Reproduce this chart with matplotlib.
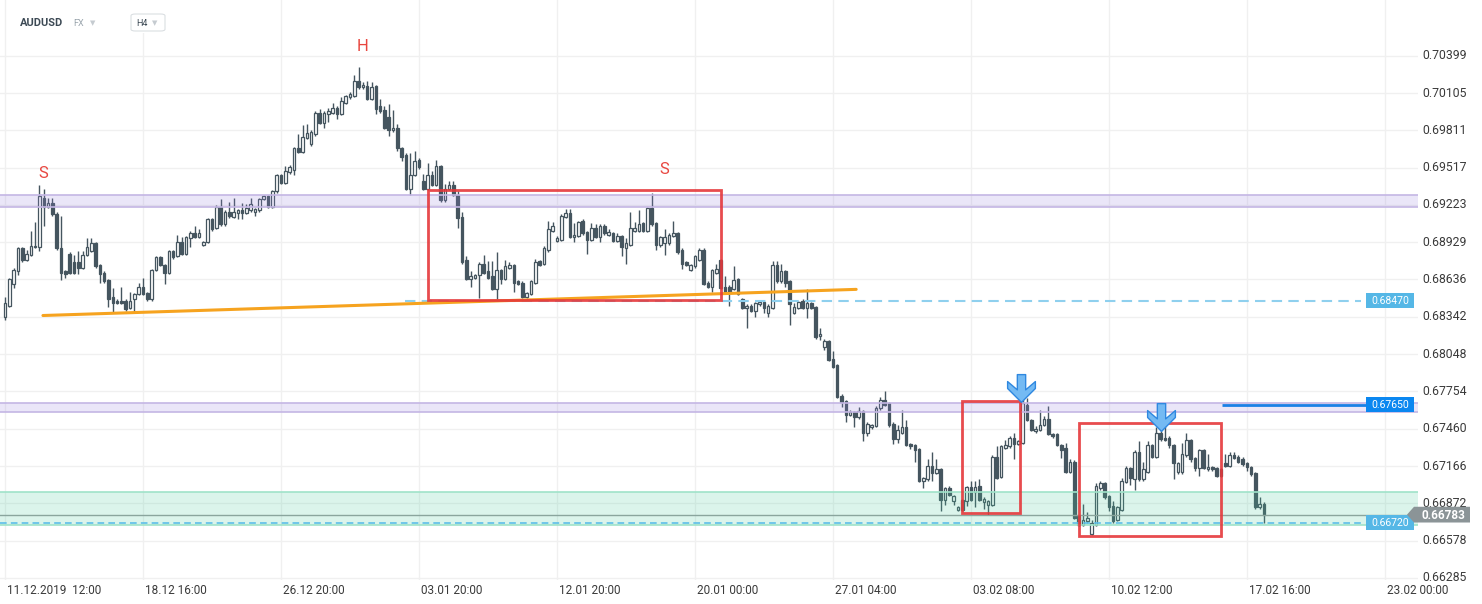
import numpy as np
import matplotlib
matplotlib.use('Agg')
import matplotlib.pyplot as plt
import matplotlib.transforms as mtransforms
from matplotlib.patches import Rectangle, Polygon, FancyBboxPatch
from matplotlib.path import Path

plt.rcParams['font.family'] = ['Roboto', 'DejaVu Sans']

# ---- AUDUSD, H4 candles
opens = [
    0.6834, 0.6843, 0.6860, 0.6870, 0.6888, 0.6879, 0.6883, 0.6890, 0.6889, 0.6928,
    0.6921, 0.6924, 0.6915, 0.6888, 0.6870, 0.6884, 0.6877, 0.6877, 0.6873, 0.6883,
    0.6886, 0.6892, 0.6875, 0.6869, 0.6863, 0.6850, 0.6847, 0.6847, 0.6847, 0.6841,
    0.6848, 0.6852, 0.6858, 0.6853, 0.6848, 0.6871, 0.6881, 0.6875, 0.6869, 0.6886,
    0.6882, 0.6893, 0.6884, 0.6896, 0.6900, 0.6897, 0.6891, 0.6893, 0.6911, 0.6904,
    0.6921, 0.6907, 0.6917, 0.6913, 0.6916, 0.6918, 0.6916, 0.6918, 0.6917, 0.6918,
    0.6927, 0.6929, 0.6921, 0.6933, 0.6946, 0.6940, 0.6948, 0.6950, 0.6967, 0.6964,
    0.6975, 0.6970, 0.6978, 0.6995, 0.6987, 0.6994, 0.6995, 0.6999, 0.6994, 0.7003,
    0.7007, 0.7008, 0.7020, 0.7015, 0.7016, 0.7006, 0.7016, 0.7000, 0.6997, 0.6992,
    0.6981, 0.6983, 0.6967, 0.6962, 0.6935, 0.6946, 0.6958, 0.6941, 0.6935, 0.6946,
    0.6938, 0.6953, 0.6926, 0.6935, 0.6938, 0.6930, 0.6913, 0.6879, 0.6864, 0.6865,
    0.6867, 0.6876, 0.6870, 0.6866, 0.6856, 0.6871, 0.6864, 0.6873, 0.6875, 0.6862,
    0.6861, 0.6850, 0.6852, 0.6861, 0.6878, 0.6876, 0.6887, 0.6902, 0.6894, 0.6895,
    0.6913, 0.6916, 0.6897, 0.6898, 0.6910, 0.6901, 0.6895, 0.6904, 0.6897, 0.6906,
    0.6899, 0.6900, 0.6894, 0.6898, 0.6888, 0.6891, 0.6902, 0.6902, 0.6908, 0.6902,
    0.6920, 0.6908, 0.6891, 0.6892, 0.6892, 0.6898, 0.6900, 0.6887, 0.6877, 0.6871,
    0.6874, 0.6879, 0.6887, 0.6861, 0.6858, 0.6869, 0.6879, 0.6858, 0.6858, 0.6856,
    0.6864, 0.6848, 0.6841, 0.6843, 0.6839, 0.6844, 0.6846, 0.6837, 0.6841, 0.6875,
    0.6862, 0.6870, 0.6862, 0.6837, 0.6841, 0.6847, 0.6841, 0.6845, 0.6842, 0.6819,
    0.6810, 0.6815, 0.6801, 0.6796, 0.6772, 0.6768, 0.6757, 0.6759, 0.6755, 0.6760,
    0.6743, 0.6747, 0.6748, 0.6762, 0.6769, 0.6766, 0.6750, 0.6738, 0.6743, 0.6747,
    0.6734, 0.6733, 0.6730, 0.6705, 0.6706, 0.6717, 0.6711, 0.6714, 0.6690, 0.6699,
    0.6689, 0.6682, 0.6690, 0.6689, 0.6700, 0.6696, 0.6701, 0.6688, 0.6686, 0.6686,
    0.6724, 0.6708, 0.6731, 0.6732, 0.6739, 0.6734, 0.6735, 0.6765, 0.6753, 0.6744,
    0.6745, 0.6749, 0.6754, 0.6742, 0.6742, 0.6733, 0.6731, 0.6712, 0.6720, 0.6677,
    0.6670, 0.6673, 0.6663, 0.6670, 0.6699, 0.6703, 0.6693, 0.6685, 0.6674, 0.6682,
    0.6704, 0.6715, 0.6706, 0.6728, 0.6706, 0.6712, 0.6733, 0.6724, 0.6743, 0.6739,
    0.6739, 0.6733, 0.6712, 0.6712, 0.6725, 0.6737, 0.6723, 0.6715, 0.6729, 0.6714,
    0.6716, 0.6715, 0.6714, 0.6719, 0.6717, 0.6725, 0.6724, 0.6722, 0.6719, 0.6716,
    0.6711, 0.6684, 0.6687,
]
highs = [
    0.6850, 0.6865, 0.6873, 0.6889, 0.6889, 0.6887, 0.6902, 0.6909, 0.6938, 0.6935,
    0.6928, 0.6928, 0.6917, 0.6914, 0.6871, 0.6885, 0.6883, 0.6886, 0.6886, 0.6896,
    0.6896, 0.6893, 0.6876, 0.6870, 0.6864, 0.6857, 0.6848, 0.6858, 0.6848, 0.6854,
    0.6853, 0.6861, 0.6865, 0.6854, 0.6872, 0.6882, 0.6882, 0.6876, 0.6887, 0.6887,
    0.6899, 0.6897, 0.6898, 0.6902, 0.6906, 0.6903, 0.6894, 0.6912, 0.6912, 0.6922,
    0.6927, 0.6918, 0.6925, 0.6928, 0.6919, 0.6924, 0.6923, 0.6928, 0.6920, 0.6928,
    0.6930, 0.6930, 0.6934, 0.6947, 0.6947, 0.6953, 0.6954, 0.6968, 0.6978, 0.6985,
    0.6986, 0.6981, 0.6996, 0.6998, 0.6996, 0.6999, 0.7003, 0.7000, 0.7007, 0.7009,
    0.7011, 0.7025, 0.7031, 0.7019, 0.7020, 0.7019, 0.7017, 0.7006, 0.7000, 0.7002,
    0.6997, 0.6986, 0.6968, 0.6963, 0.6963, 0.6965, 0.6959, 0.6947, 0.6955, 0.6949,
    0.6958, 0.6954, 0.6939, 0.6941, 0.6941, 0.6933, 0.6917, 0.6882, 0.6870, 0.6868,
    0.6877, 0.6883, 0.6878, 0.6878, 0.6885, 0.6872, 0.6879, 0.6877, 0.6876, 0.6863,
    0.6862, 0.6854, 0.6863, 0.6880, 0.6879, 0.6890, 0.6910, 0.6909, 0.6898, 0.6915,
    0.6919, 0.6919, 0.6908, 0.6910, 0.6911, 0.6902, 0.6908, 0.6907, 0.6907, 0.6907,
    0.6903, 0.6901, 0.6900, 0.6899, 0.6896, 0.6917, 0.6909, 0.6918, 0.6909, 0.6921,
    0.6932, 0.6909, 0.6898, 0.6903, 0.6900, 0.6910, 0.6901, 0.6888, 0.6878, 0.6876,
    0.6883, 0.6888, 0.6888, 0.6862, 0.6872, 0.6876, 0.6880, 0.6866, 0.6859, 0.6874,
    0.6865, 0.6849, 0.6844, 0.6844, 0.6846, 0.6847, 0.6847, 0.6844, 0.6878, 0.6878,
    0.6876, 0.6871, 0.6863, 0.6845, 0.6847, 0.6848, 0.6856, 0.6846, 0.6843, 0.6825,
    0.6817, 0.6816, 0.6807, 0.6797, 0.6773, 0.6769, 0.6761, 0.6760, 0.6763, 0.6761,
    0.6751, 0.6750, 0.6764, 0.6771, 0.6776, 0.6767, 0.6751, 0.6749, 0.6761, 0.6753,
    0.6735, 0.6734, 0.6731, 0.6708, 0.6722, 0.6728, 0.6722, 0.6715, 0.6700, 0.6701,
    0.6694, 0.6685, 0.6691, 0.6701, 0.6705, 0.6705, 0.6706, 0.6692, 0.6690, 0.6725,
    0.6732, 0.6733, 0.6737, 0.6740, 0.6743, 0.6737, 0.6772, 0.6770, 0.6754, 0.6748,
    0.6761, 0.6756, 0.6764, 0.6743, 0.6743, 0.6734, 0.6735, 0.6722, 0.6721, 0.6678,
    0.6687, 0.6680, 0.6674, 0.6703, 0.6705, 0.6704, 0.6694, 0.6689, 0.6685, 0.6707,
    0.6717, 0.6716, 0.6729, 0.6736, 0.6720, 0.6736, 0.6734, 0.6747, 0.6745, 0.6750,
    0.6740, 0.6734, 0.6720, 0.6735, 0.6743, 0.6738, 0.6724, 0.6730, 0.6730, 0.6726,
    0.6717, 0.6716, 0.6715, 0.6726, 0.6728, 0.6728, 0.6725, 0.6724, 0.6720, 0.6717,
    0.6712, 0.6692, 0.6688,
]
lows = [
    0.6832, 0.6842, 0.6857, 0.6867, 0.6877, 0.6878, 0.6882, 0.6888, 0.6886, 0.6906,
    0.6920, 0.6914, 0.6887, 0.6863, 0.6865, 0.6868, 0.6868, 0.6868, 0.6872, 0.6882,
    0.6885, 0.6873, 0.6861, 0.6861, 0.6842, 0.6837, 0.6844, 0.6844, 0.6839, 0.6840,
    0.6837, 0.6851, 0.6851, 0.6847, 0.6847, 0.6870, 0.6874, 0.6860, 0.6868, 0.6880,
    0.6881, 0.6883, 0.6883, 0.6889, 0.6896, 0.6896, 0.6890, 0.6892, 0.6902, 0.6903,
    0.6906, 0.6906, 0.6912, 0.6912, 0.6911, 0.6911, 0.6915, 0.6917, 0.6914, 0.6917,
    0.6926, 0.6920, 0.6920, 0.6932, 0.6939, 0.6939, 0.6947, 0.6946, 0.6963, 0.6963,
    0.6974, 0.6969, 0.6977, 0.6986, 0.6983, 0.6988, 0.6994, 0.6990, 0.6993, 0.7002,
    0.7006, 0.7007, 0.7014, 0.7014, 0.7005, 0.7005, 0.6994, 0.6995, 0.6982, 0.6977,
    0.6980, 0.6965, 0.6957, 0.6934, 0.6930, 0.6945, 0.6951, 0.6934, 0.6934, 0.6937,
    0.6937, 0.6925, 0.6925, 0.6934, 0.6929, 0.6904, 0.6876, 0.6863, 0.6858, 0.6864,
    0.6849, 0.6868, 0.6864, 0.6855, 0.6848, 0.6860, 0.6863, 0.6872, 0.6854, 0.6859,
    0.6849, 0.6849, 0.6851, 0.6860, 0.6874, 0.6875, 0.6885, 0.6901, 0.6893, 0.6894,
    0.6912, 0.6896, 0.6893, 0.6897, 0.6899, 0.6884, 0.6894, 0.6896, 0.6893, 0.6899,
    0.6898, 0.6893, 0.6893, 0.6882, 0.6876, 0.6890, 0.6901, 0.6901, 0.6901, 0.6901,
    0.6906, 0.6887, 0.6889, 0.6883, 0.6891, 0.6897, 0.6884, 0.6872, 0.6874, 0.6870,
    0.6873, 0.6878, 0.6859, 0.6857, 0.6854, 0.6868, 0.6856, 0.6853, 0.6843, 0.6855,
    0.6851, 0.6840, 0.6825, 0.6838, 0.6834, 0.6843, 0.6837, 0.6834, 0.6840, 0.6861,
    0.6861, 0.6858, 0.6828, 0.6836, 0.6840, 0.6840, 0.6833, 0.6840, 0.6817, 0.6816,
    0.6808, 0.6799, 0.6794, 0.6770, 0.6763, 0.6751, 0.6756, 0.6747, 0.6754, 0.6736,
    0.6740, 0.6746, 0.6747, 0.6761, 0.6764, 0.6747, 0.6734, 0.6735, 0.6742, 0.6732,
    0.6730, 0.6720, 0.6704, 0.6699, 0.6705, 0.6705, 0.6710, 0.6681, 0.6686, 0.6693,
    0.6686, 0.6681, 0.6681, 0.6685, 0.6689, 0.6684, 0.6689, 0.6683, 0.6678, 0.6685,
    0.6706, 0.6707, 0.6730, 0.6731, 0.6722, 0.6733, 0.6734, 0.6752, 0.6744, 0.6743,
    0.6744, 0.6748, 0.6741, 0.6739, 0.6732, 0.6723, 0.6711, 0.6711, 0.6675, 0.6669,
    0.6669, 0.6672, 0.6662, 0.6669, 0.6698, 0.6691, 0.6681, 0.6672, 0.6673, 0.6681,
    0.6703, 0.6702, 0.6698, 0.6705, 0.6705, 0.6711, 0.6723, 0.6723, 0.6736, 0.6736,
    0.6731, 0.6706, 0.6710, 0.6710, 0.6724, 0.6720, 0.6713, 0.6709, 0.6714, 0.6713,
    0.6713, 0.6708, 0.6708, 0.6716, 0.6716, 0.6722, 0.6719, 0.6717, 0.6713, 0.6709,
    0.6683, 0.6683, 0.6672,
]
closes = [
    0.6845, 0.6864, 0.6871, 0.6888, 0.6879, 0.6884, 0.6890, 0.6889, 0.6929, 0.6921,
    0.6924, 0.6915, 0.6888, 0.6869, 0.6868, 0.6869, 0.6869, 0.6873, 0.6883, 0.6889,
    0.6892, 0.6874, 0.6868, 0.6862, 0.6848, 0.6845, 0.6845, 0.6845, 0.6840, 0.6847,
    0.6852, 0.6858, 0.6852, 0.6848, 0.6871, 0.6881, 0.6875, 0.6869, 0.6886, 0.6881,
    0.6893, 0.6884, 0.6897, 0.6900, 0.6897, 0.6900, 0.6893, 0.6911, 0.6903, 0.6921,
    0.6907, 0.6917, 0.6914, 0.6917, 0.6918, 0.6916, 0.6920, 0.6923, 0.6919, 0.6927,
    0.6929, 0.6921, 0.6933, 0.6946, 0.6940, 0.6949, 0.6952, 0.6967, 0.6964, 0.6976,
    0.6979, 0.6980, 0.6995, 0.6987, 0.6995, 0.6996, 0.6999, 0.6994, 0.7004, 0.7008,
    0.7010, 0.7020, 0.7015, 0.7017, 0.7006, 0.7015, 0.6998, 0.6996, 0.6983, 0.6981,
    0.6983, 0.6967, 0.6960, 0.6935, 0.6946, 0.6957, 0.6952, 0.6935, 0.6946, 0.6938,
    0.6953, 0.6926, 0.6935, 0.6938, 0.6930, 0.6912, 0.6877, 0.6864, 0.6866, 0.6867,
    0.6876, 0.6869, 0.6865, 0.6856, 0.6871, 0.6864, 0.6874, 0.6875, 0.6861, 0.6860,
    0.6850, 0.6853, 0.6862, 0.6877, 0.6875, 0.6888, 0.6903, 0.6906, 0.6896, 0.6914,
    0.6916, 0.6897, 0.6899, 0.6909, 0.6900, 0.6895, 0.6904, 0.6897, 0.6906, 0.6900,
    0.6901, 0.6894, 0.6898, 0.6889, 0.6892, 0.6904, 0.6904, 0.6907, 0.6902, 0.6920,
    0.6907, 0.6891, 0.6897, 0.6897, 0.6899, 0.6900, 0.6885, 0.6876, 0.6875, 0.6875,
    0.6882, 0.6887, 0.6860, 0.6858, 0.6871, 0.6872, 0.6857, 0.6854, 0.6854, 0.6863,
    0.6852, 0.6841, 0.6843, 0.6839, 0.6845, 0.6846, 0.6841, 0.6843, 0.6875, 0.6862,
    0.6870, 0.6861, 0.6844, 0.6842, 0.6846, 0.6841, 0.6845, 0.6841, 0.6818, 0.6821,
    0.6815, 0.6800, 0.6795, 0.6771, 0.6767, 0.6757, 0.6759, 0.6755, 0.6760, 0.6743,
    0.6750, 0.6749, 0.6762, 0.6769, 0.6765, 0.6749, 0.6738, 0.6745, 0.6747, 0.6733,
    0.6732, 0.6729, 0.6705, 0.6707, 0.6717, 0.6711, 0.6714, 0.6690, 0.6699, 0.6694,
    0.6693, 0.6684, 0.6682, 0.6700, 0.6690, 0.6700, 0.6690, 0.6691, 0.6689, 0.6724,
    0.6707, 0.6732, 0.6733, 0.6739, 0.6734, 0.6736, 0.6766, 0.6753, 0.6745, 0.6746,
    0.6749, 0.6754, 0.6742, 0.6740, 0.6733, 0.6729, 0.6712, 0.6720, 0.6676, 0.6670,
    0.6674, 0.6676, 0.6672, 0.6701, 0.6703, 0.6692, 0.6684, 0.6673, 0.6684, 0.6705,
    0.6715, 0.6707, 0.6728, 0.6706, 0.6714, 0.6733, 0.6724, 0.6743, 0.6738, 0.6737,
    0.6733, 0.6719, 0.6719, 0.6726, 0.6737, 0.6722, 0.6715, 0.6729, 0.6715, 0.6716,
    0.6714, 0.6709, 0.6709, 0.6717, 0.6725, 0.6723, 0.6720, 0.6718, 0.6716, 0.6710,
    0.6684, 0.6687, 0.6678,
]

date_ticks = [0, 32, 64, 96, 128, 160, 192, 224, 256, 288, 320]
date_labels = ['11.12.2019  12:00', '18.12 16:00', '26.12 20:00', '03.01 20:00',
               '12.01 20:00', '20.01 00:00', '27.01 04:00', '03.02 08:00',
               '10.02 12:00', '17.02 16:00', '23.02 00:00']
price_ticks = [0.70399, 0.70105, 0.69811, 0.69517, 0.69223, 0.68929, 0.68636,
               0.68342, 0.68048, 0.67754, 0.67460, 0.67166, 0.66872, 0.66578, 0.66285]

# ---- drawings on the chart
upper_zone = (0.6921, 0.6930)
middle_zone = (0.6759, 0.6766)
support_zone = (0.6670, 0.6696)
last_price = 0.66783
level_a = 0.68470
level_b = 0.67650
level_c = 0.66720
trend_x = [8.8, 197.4]
trend_y = [0.68352, 0.68558]
boxes = [(98.1, 166.0, 0.68474, 0.69341),
         (221.9, 235.4, 0.66793, 0.67678),
         (249.1, 282.0, 0.66614, 0.67507)]
marks = [('S', 8.8, 0.69467), ('H', 83.0, 0.70468), ('S', 152.8, 0.69506)]
arrows_x = [235.6, 268.1]
arrows_y = [0.67779, 0.67551]

W, H = 1482, 604
fig = plt.figure(figsize=(W / 100, H / 100), dpi=100)
ax = fig.add_axes([0, 24 / H, 1418 / W, 580 / H])
ax.set_xlim(-1.16, 327.7)
ax.set_ylim(0.66268, 0.70838)
for s in ax.spines.values():
    s.set_visible(False)
ax.set_axisbelow(True)
ax.grid(True, color='#f0f0f0', lw=1)

# candles
o = np.array(opens)
hi = np.array(highs)
lo = np.array(lows)
c = np.array(closes)
x = np.arange(len(c))
up = c >= o
dark = '#45555f'
ax.vlines(x, lo, hi, color=dark, lw=1, zorder=2)
ax.bar(x[up], c[up] - o[up], bottom=o[up], width=0.6, color='white',
       edgecolor=dark, linewidth=0.9, zorder=3)
ax.bar(x[~up], o[~up] - c[~up], bottom=c[~up], width=0.6, color=dark,
       edgecolor=dark, linewidth=0.9, zorder=3)

# zones
for (z0, z1), fc, ec in [(upper_zone, '#9a85dc', '#c4b6e4'),
                         (middle_zone, '#9a85dc', '#c4b6e4'),
                         (support_zone, '#4dcc9e', '#9fe3c9')]:
    ax.axhspan(z0, z1, color=fc, alpha=0.2, lw=0, zorder=4)
    ax.axhline(z0, color=ec, lw=1.2, zorder=4)
    ax.axhline(z1, color=ec, lw=1.2, zorder=4)

# levels
ax.axhline(last_price, color='#8aa59d', lw=1, zorder=5)
ax.hlines(level_a, 92.8, 314.5, colors='#8fd0ee', lw=1.5, linestyles=(0, (5, 3)), zorder=5)
ax.hlines(level_c, -1.2, 314.5, colors='#5dbfe9', lw=1.2, linestyles=(0, (4, 2.5)), zorder=5)
ax.hlines(level_b, 282.2, 315.6, colors='#1a80e6', lw=2, zorder=5)

# trend line
ax.plot(trend_x, trend_y, color='#f6a31f', lw=2.2, solid_capstyle='round', zorder=5)

# pattern boxes
for x0, x1, y0, y1 in boxes:
    ax.add_patch(Rectangle((x0, y0), x1 - x0, y1 - y0, fill=False, ec='#e5383b',
                           lw=2, alpha=0.9, zorder=6))

for t, mx, my in marks:
    ax.text(mx, my, t, color='#e8463f', fontsize=12, ha='center', va='center', zorder=6)

# down arrows
arrow = Path([(-0.15, 0.5), (0.15, 0.5), (0.15, -0.05), (0.5, 0.25), (0.5, 0.0),
              (0, -0.5), (-0.5, 0.0), (-0.5, 0.25), (-0.15, -0.05), (-0.15, 0.5)],
             closed=True)
ax.plot(arrows_x, arrows_y, ls='none', marker=arrow, ms=20, mfc='#74baf3',
        mec='#2f88e0', mew=1, zorder=7)

# price tags
trans = mtransforms.blended_transform_factory(ax.transAxes, ax.transData)
half = 0.00059
for val, fc in [(level_a, '#55b7e6'), (level_b, '#0b87f0'), (level_c, '#55b7e6')]:
    ax.add_patch(Rectangle((1366 / 1418, val - half), 48 / 1418, 2 * half,
                           transform=trans, fc=fc, ec='none', zorder=8))
    ax.text(1390 / 1418, val, f'{val:.5f}', transform=trans, ha='center', va='center',
            fontsize=7.5, color='white', zorder=9)

tag = [(1407 / 1418, last_price), (1414 / 1418, last_price + 0.00062),
       (1470 / 1418, last_price + 0.00062), (1470 / 1418, last_price - 0.00062),
       (1414 / 1418, last_price - 0.00062)]
ax.add_patch(Polygon(tag, closed=True, transform=trans, fc='#8b9497', ec='none',
                     clip_on=False, zorder=8))
ax.text(1421 / 1418, last_price - 0.00004, f'{last_price:.5f}', transform=trans,
        ha='left', va='center', fontsize=8.5, fontweight='bold', color='white',
        zorder=9, clip_on=False)

# axes ticks
ax.yaxis.tick_right()
ax.set_yticks(price_ticks)
ax.set_yticklabels([f'{p:.5f}' for p in price_ticks])
ax.tick_params(axis='y', length=0, pad=3, labelsize=8.8, labelcolor='#3a3a3a')
ax.set_xticks(date_ticks)
ax.set_xticklabels(date_labels, ha='left')
ax.tick_params(axis='x', length=0, pad=2, labelsize=8.5, labelcolor='#3a3a3a')
for lab in ax.get_yticklabels():
    lab.set_transform(lab.get_transform() +
                      mtransforms.ScaledTranslation(0, 1.5 / 100, fig.dpi_scale_trans))
for lab in ax.get_xticklabels():
    lab.set_transform(lab.get_transform() +
                      mtransforms.ScaledTranslation(2 / 100, -1 / 100, fig.dpi_scale_trans))

# header
fig.patches.append(Rectangle((10 / W, 1 - 33 / H), 165 / W, 33 / H, transform=fig.transFigure,
                             fc='white', ec='none', zorder=10))
yh = 1 - 23 / H
fig.text(20 / W, yh, 'AUDUSD', fontsize=8, fontweight='bold', color='#3d4a55',
         va='center', zorder=11)
fig.text(73 / W, yh, 'FX', fontsize=6.5, color='#9aa5ad', va='center', zorder=11)
fig.text(90 / W, yh, '▼', fontsize=5, color='#c5cbd0', va='center', zorder=11,
         family='DejaVu Sans')
fig.patches.append(FancyBboxPatch((131 / W, 1 - 31 / H), 34 / W, 17 / H,
                                  boxstyle='round,pad=0,rounding_size=0.003',
                                  transform=fig.transFigure, fc='white', ec='#dadfe2',
                                  lw=0.8, zorder=11))
fig.text(136 / W, yh, 'H4', fontsize=6.5, color='#3d4a55', va='center', zorder=12)
fig.text(152 / W, yh, '▼', fontsize=5, color='#c5cbd0', va='center', zorder=12,
         family='DejaVu Sans')

fig.savefig('out.png', dpi=100)
